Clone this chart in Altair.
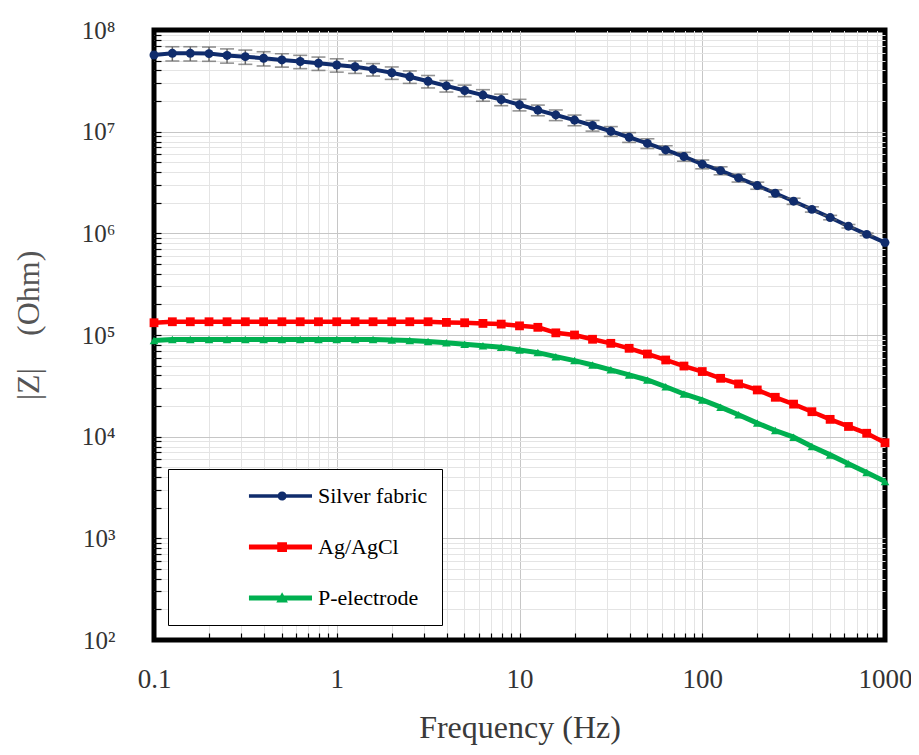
import altair as alt
import pandas as pd

# ---------------- data ----------------
freq = [0.1, 0.126, 0.158, 0.2, 0.251, 0.316, 0.398, 0.501, 0.631, 0.794,
        1, 1.26, 1.58, 2, 2.51, 3.16, 3.98, 5.01, 6.31, 7.94,
        10, 12.6, 15.8, 20, 25.1, 31.6, 39.8, 50.1, 63.1, 79.4,
        100, 126, 158, 200, 251, 316, 398, 501, 631, 794, 1000]

silver = [5.68e7, 5.90e7, 5.90e7, 5.86e7, 5.62e7, 5.47e7, 5.27e7, 5.08e7, 4.90e7, 4.71e7,
          4.53e7, 4.35e7, 4.10e7, 3.80e7, 3.47e7, 3.13e7, 2.82e7, 2.54e7, 2.29e7, 2.07e7,
          1.84e7, 1.63e7, 1.46e7, 1.30e7, 1.15e7, 1.01e7, 8.81e6, 7.67e6, 6.61e6, 5.69e6,
          4.79e6, 4.14e6, 3.51e6, 2.95e6, 2.48e6, 2.07e6, 1.72e6, 1.43e6, 1.175e6, 9.77e5, 8.11e5]

agagcl = [1.32e5, 1.35e5, 1.35e5, 1.35e5, 1.35e5, 1.35e5, 1.35e5, 1.35e5, 1.35e5, 1.35e5,
          1.35e5, 1.35e5, 1.35e5, 1.35e5, 1.35e5, 1.35e5, 1.33e5, 1.32e5, 1.30e5, 1.28e5,
          1.23e5, 1.19e5, 1.05e5, 1.00e5, 9.08e4, 8.28e4, 7.40e4, 6.50e4, 5.68e4, 4.95e4,
          4.37e4, 3.75e4, 3.30e4, 2.88e4, 2.44e4, 2.09e4, 1.76e4, 1.48e4, 1.26e4, 1.08e4, 8.71e3]

pelec = [8.81e4, 9.02e4, 9.02e4, 9.02e4, 9.02e4, 9.02e4, 9.02e4, 9.02e4, 9.02e4, 9.02e4,
         9.02e4, 9.02e4, 9.02e4, 8.91e4, 8.81e4, 8.61e4, 8.41e4, 8.13e4, 7.85e4, 7.59e4,
         7.13e4, 6.71e4, 6.12e4, 5.60e4, 5.07e4, 4.54e4, 4.05e4, 3.61e4, 3.10e4, 2.63e4,
         2.30e4, 1.95e4, 1.64e4, 1.36e4, 1.15e4, 9.89e3, 8.00e3, 6.62e3, 5.41e3, 4.44e3, 3.62e3]

# relative error of the silver fabric measurement
silver_err = [0.0, 0.16, 0.16, 0.16, 0.16, 0.16, 0.16, 0.15, 0.15, 0.15,
              0.15, 0.14, 0.14, 0.14, 0.14, 0.14, 0.13, 0.13, 0.13, 0.13,
              0.13, 0.12, 0.12, 0.12, 0.12, 0.11, 0.11, 0.11, 0.10, 0.10,
              0.10, 0.09, 0.09, 0.08, 0.08, 0.07, 0.06, 0.05, 0.04, 0.03, 0.0]

series_names = ["Silver fabric", "Ag/AgCl", "P-electrode"]
series_colors = ["#102c6c", "#ff0000", "#00b050"]
series_widths = [4, 5, 5]
series_shapes = ["circle", "square", "triangle-up"]
series_sizes = [80, 75, 75]

x_ticks = [0.1, 0.2, 0.3, 0.4, 0.5, 0.6, 0.7, 0.8, 0.9,
           1, 2, 3, 4, 5, 6, 7, 8, 9,
           10, 20, 30, 40, 50, 60, 70, 80, 90,
           100, 200, 300, 400, 500, 600, 700, 800, 900, 1000]
y_ticks = [100, 200, 300, 400, 500, 600, 700, 800, 900,
           1e3, 2e3, 3e3, 4e3, 5e3, 6e3, 7e3, 8e3, 9e3,
           1e4, 2e4, 3e4, 4e4, 5e4, 6e4, 7e4, 8e4, 9e4,
           1e5, 2e5, 3e5, 4e5, 5e5, 6e5, 7e5, 8e5, 9e5,
           1e6, 2e6, 3e6, 4e6, 5e6, 6e6, 7e6, 8e6, 9e6,
           1e7, 2e7, 3e7, 4e7, 5e7, 6e7, 7e7, 8e7, 9e7, 1e8]

rows = []
for name, vals in zip(series_names, [silver, agagcl, pelec]):
    for f, v in zip(freq, vals):
        rows.append({"freq": f, "z": v, "series": name})
df = pd.DataFrame(rows)

err_rows = []
cap_rows = []
for f, v, e in zip(freq, silver, silver_err):
    if e > 0:
        err_rows.append({"freq": f, "lo": v * (1 - e), "hi": v * (1 + e)})
        cap_rows.append({"freq": f, "yv": v * (1 - e)})
        cap_rows.append({"freq": f, "yv": v * (1 + e)})
err_df = pd.DataFrame(err_rows)
cap_df = pd.DataFrame(cap_rows)

# ---------------- styling ----------------
FONT = "Liberation Serif"
DEC = "abs(log(datum.value)/LN10 - round(log(datum.value)/LN10)) < 0.000001"


def grid_color(lo, hi):
    return {"condition": [
        {"test": f"datum.value <= {lo} * 1.0001 || datum.value >= {hi} * 0.9999", "value": "black"},
        {"test": DEC, "value": "#c6c6c6"}],
        "value": "#e4e4e4"}


x_scale = alt.Scale(type="log", domain=[0.1, 1000], nice=False)
y_scale = alt.Scale(type="log", domain=[100, 1e8], nice=False)

x_axis = alt.Axis(
    title="Frequency (Hz)", values=x_ticks,
    labelExpr=f"({DEC}) ? format(datum.value, '~g') : ''",
    grid=True, gridColor=grid_color(0.1, 1000), gridWidth=1,
    ticks=True, tickColor="black", tickSize=7, tickWidth=1.2, offset=-7,
    domain=False, labelPadding=26, labelFont=FONT, labelFontSize=27,
    labelColor="#333333", labelFlush=False, labelOverlap=False,
    titleFont=FONT, titleFontSize=32, titleFontWeight="normal", titleColor="#3a3a3a",
    titleX=365.5, titleY=104, titleBaseline="alphabetic",
)
y_axis = alt.Axis(
    title="|Z|\u2003(Ohm)", values=y_ticks,
    labelExpr=f"({DEC}) ? '10' + ['\u2070','\u00b9','\u00b2','\u00b3','\u2074','\u2075','\u2076','\u2077','\u2078'][round(log(datum.value)/LN10)] : ''",
    grid=True, gridColor=grid_color(100, 1e8), gridWidth=1,
    ticks=True, tickColor="black", tickSize=7, tickWidth=1.2, offset=-7,
    domain=False, labelPadding=39, labelFont=FONT, labelFontSize=25,
    labelColor="#333333", labelFlush=False, labelOverlap=False,
    titleFont=FONT, titleFontSize=32, titleFontWeight="normal", titleColor="#555555",
    titleX=-133, titleY=295, titleBaseline="middle", titleAngle=270,
)

color_scale = alt.Scale(domain=series_names, range=series_colors)

P_SILVER = "M0.03,-0.027H1V0.027H0.03Z M0.47,0A0.07,0.07 0 1,1 0.61,0A0.07,0.07 0 1,1 0.47,0Z"
P_AG = "M0.03,-0.04H1V0.04H0.03Z M0.465,-0.075H0.615V0.075H0.465Z"
P_PE = "M0.03,-0.04H1V0.04H0.03Z M0.54,-0.09L0.63,0.07H0.45Z"
legend_paths = [P_SILVER, P_AG, P_PE]
NB = "\u00a0" * 7

legend = alt.Legend(
    title=None, orient="none", legendX=14, legendY=439, direction="vertical",
    fillColor="white", strokeColor="black", padding=14,
    clipHeight=26, rowPadding=25, symbolSize=16900, symbolStrokeWidth=0,
    symbolOffset=0, symbolOpacity=1, labelOffset=6, labelFont=FONT, labelFontSize=22,
    labelColor="black", labelLimit=500, labelExpr=f"datum.label + '{NB}'",
)

base = alt.Chart(df)
X = alt.X("freq:Q", scale=x_scale, axis=x_axis)

lines = base.mark_line().encode(
    x=X,
    y=alt.Y("z:Q", scale=y_scale, axis=y_axis),
    color=alt.Color("series:N", scale=color_scale, legend=None),
    strokeWidth=alt.StrokeWidth("series:N", scale=alt.Scale(domain=series_names, range=series_widths), legend=None),
    detail="series:N",
)

bars = alt.Chart(err_df).mark_rule(color="#666666", strokeWidth=1.5).encode(
    x=X,
    y=alt.Y("lo:Q", scale=y_scale, axis=y_axis),
    y2="hi:Q",
)

caps = alt.Chart(cap_df).mark_tick(color="#666666", thickness=1.6, size=14, orient="horizontal").encode(
    x=X,
    y=alt.Y("yv:Q", scale=y_scale, axis=y_axis),
)

points = base.mark_point(filled=True, opacity=1).encode(
    x=X,
    y=alt.Y("z:Q", scale=y_scale, axis=y_axis),
    color=alt.Color("series:N", scale=color_scale, legend=None),
    shape=alt.Shape("series:N", scale=alt.Scale(domain=series_names, range=series_shapes), legend=None),
    size=alt.Size("series:N", scale=alt.Scale(domain=series_names, range=series_sizes), legend=None),
)

# legend-only layer (no visible marks): line + marker symbols
legend_layer = base.transform_filter("false").mark_point(filled=True, opacity=1, size=16900).encode(
    x=X,
    y=alt.Y("z:Q", scale=y_scale, axis=y_axis),
    fill=alt.Fill("series:N", scale=color_scale, legend=legend),
    shape=alt.Shape("series:N", scale=alt.Scale(domain=series_names, range=legend_paths), legend=legend),
)

chart = alt.layer(lines, bars, caps, points, legend_layer).resolve_scale(
    shape="independent", fill="independent"
).properties(
    width=731, height=610,
    autosize=alt.AutoSizeParams(type="none"),
    padding={"left": 146, "top": 22, "right": 26, "bottom": 108},
    background="white",
).configure_view(stroke="black", strokeWidth=5)

chart.save("out.html", embed_options={"renderer": "svg", "actions": False})
